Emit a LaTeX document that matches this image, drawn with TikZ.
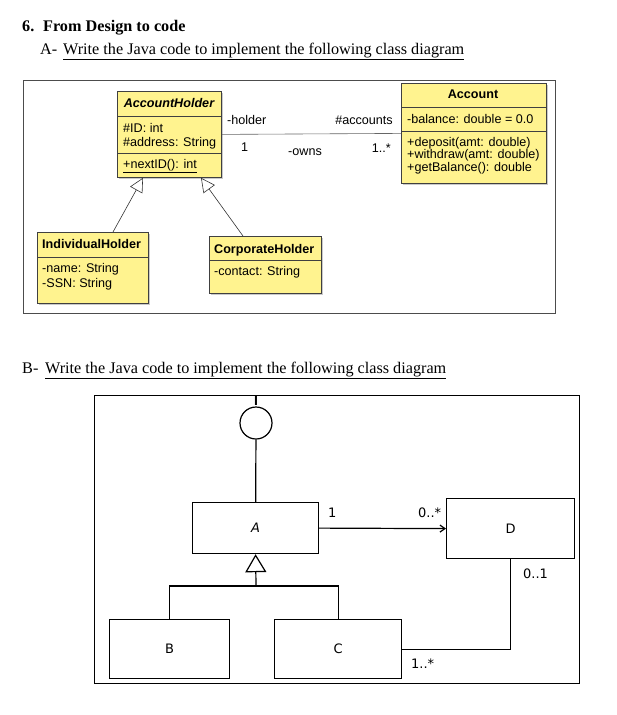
\documentclass[tikz,border=0pt]{standalone}
\usepackage{fontspec}
\setmainfont{Liberation Serif}
\newfontfamily\umlfont{Liberation Sans}
\newfontfamily\boxfont{DejaVu Sans}
\usetikzlibrary{calc,shadows,arrows.meta}
\definecolor{umlyellow}{RGB}{255,243,143}
\tikzset{
	umlbox/.style={draw=black!75,fill=umlyellow,line width=0.8pt,anchor=north west,inner sep=0pt,
			drop shadow={shadow xshift=1.5pt,shadow yshift=-1.5pt,fill=black!35,opacity=0.6}},
	umltext/.style={anchor=base west,inner sep=0pt,font=\umlfont\fontsize{12.6}{12.5}\selectfont},
	umlhead/.style={anchor=base,inner sep=0pt,font=\umlfont\bfseries\fontsize{12.6}{12.5}\selectfont},
	heading/.style={anchor=base west,inner sep=0pt,font=\fontsize{16.2}{18}\selectfont},
	plainbox/.style={draw,line width=1.2pt,anchor=north west,inner sep=0pt},
	boxtext/.style={inner sep=0pt,font=\boxfont\fontsize{13}{15}\selectfont},
	inherits/.style={-{Triangle[open,fill=white,length=14pt,width=14pt]},line width=0.6pt,black!80}
}

\begin{document}
\begin{tikzpicture}[x=1pt,y=-1pt]
		\useasboundingbox (0,0) rectangle (616,715);
		% headings
		\node [heading,font=\fontsize{16.2}{18}\selectfont\bfseries] (q6) at (22,31) {6.};
		\node [heading,font=\fontsize{16.2}{18}\selectfont\bfseries] (q6title) at (43,31) {From Design to code};
		\node [heading] (qa) at (40,54) {A-};
		\node [heading] (qatext) at (63,54) {\underline{Write the Java code to implement the following class diagram}};
		\node [heading] (qb) at (22,373) {B-};
		\node [heading] (qbtext) at (45,373) {\underline{Write the Java code to implement the following class diagram}};

		% part A
		\draw [black!70,line width=0.8pt] (23,80) rectangle (555,313);
		\node [umlbox,minimum width=104pt,minimum height=86pt] (ah) at (117,91) {};
		\draw [black!75] ($(ah.north west)+(0,25)$) -- ($(ah.north east)+(0,25)$);
		\draw [black!75] ($(ah.north west)+(0,62)$) -- ($(ah.north east)+(0,62)$);
		\node [umlhead,font=\umlfont\bfseries\itshape\fontsize{12.6}{12.5}\selectfont] (ahname) at (169,107) {AccountHolder};
		\node [umltext] (ahid) at (123,132) {\#ID: int};
		\node [umltext] (ahaddr) at (123,146) {\#address: String};
		\node [umltext] (ahnext) at (123,168) {\underline{+nextID(): int}};

		\node [umlbox,minimum width=111pt,minimum height=71pt] (ih) at (37,232) {};
		\draw [black!75] ($(ih.north west)+(0,25)$) -- ($(ih.north east)+(0,25)$);
		\node [umlhead,anchor=base west] (ihname) at (42,248) {IndividualHolder};
		\node [umltext] (ihname2) at (42,272) {-name: String};
		\node [umltext] (ihssn) at (42,287) {-SSN: String};

		\node [umlbox,minimum width=112pt,minimum height=57pt] (ch) at (209,236) {};
		\draw [black!75] ($(ch.north west)+(0,24)$) -- ($(ch.north east)+(0,24)$);
		\node [umlhead,anchor=base west] (chname) at (214,253) {CorporateHolder};
		\node [umltext] (chcontact) at (214,275) {-contact: String};

		\node [umlbox,minimum width=145pt,minimum height=100pt] (acc) at (401,83) {};
		\draw [black!75] ($(acc.north west)+(0,24)$) -- ($(acc.north east)+(0,24)$);
		\draw [black!75] ($(acc.north west)+(0,48)$) -- ($(acc.north east)+(0,48)$);
		\node [umlhead] (accname) at (473,98) {Account};
		\node [umltext] (accbal) at (407,123) {-balance: double = 0.0};
		\node [umltext] (accdep) at (407,146) {+deposit(amt: double)};
		\node [umltext] (accwd) at (407,158.5) {+withdraw(amt: double)};
		\node [umltext] (accget) at (407,171) {+getBalance(): double};

		\draw [black!60,line width=0.6pt] (ah.east) -- (acc.west);
		\node [umltext] (lholder) at (227,124) {-holder};
		\node [umltext] (lone) at (241,151) {1};
		\node [umltext] (lowns) at (288,155) {-owns};
		\node [umltext,anchor=base east] (laccounts) at (393,124) {\#accounts};
		\node [umltext,anchor=base east] (lmany) at (391,152) {1..*};

		\draw [inherits] ($(ih.north west)+(76,0)$) -- ($(ah.south west)+(26,0)$);
		\draw [inherits] ($(ch.north west)+(34,0)$) -- ($(ah.south west)+(84,0)$);

		% part B
		\draw [line width=1pt] (94,395) rectangle (579,683);
		\node [circle,draw,line width=1.2pt,minimum size=32pt,inner sep=0pt] (iface) at (256,423) {};
		\node [anchor=base,inner sep=0pt,font=\umlfont\bfseries\fontsize{14}{15}\selectfont] (iname) at (256,405.5) {I};
		\node [plainbox,minimum width=126pt,minimum height=51pt] (a) at (192,502) {};
		\node [boxtext,font=\boxfont\itshape\fontsize{13}{15}\selectfont] (aname) at (a.center) {A};
		\node [plainbox,minimum width=128pt,minimum height=60pt] (d) at (446,498) {};
		\node [boxtext] (dname) at (d.center) {D};
		\node [plainbox,minimum width=120pt,minimum height=59pt] (b) at (109,619) {};
		\node [boxtext] (bname) at (b.center) {B};
		\node [plainbox,minimum width=127pt,minimum height=59pt] (c) at (274,619) {};
		\node [boxtext] (cname) at (c.center) {C};
		\coordinate (split) at (256,586);

		\draw [line width=1.2pt] (iface) -- (a);
		\draw [line width=1.2pt,-{Straight Barb[length=5pt,width=7pt]}] (a.east) -- (d.west);
		\node [boxtext,anchor=base west] (mone) at (328,517) {1};
		\node [boxtext,anchor=base west] (mzm) at (418,517) {0..*};
		\draw [line width=1.2pt,-{Triangle[open,fill=white,length=18pt,width=21pt]}] (split) -- (a.south);
		\draw [line width=1.2pt] (b.north) |- (split) -| (c.north);
		\draw [line width=1.2pt] (c.east) -| (d.south);
		\node [boxtext,anchor=base west] (mzo) at (523,578) {0..1};
		\node [boxtext,anchor=base west] (mom) at (411,668) {1..*};
	\end{tikzpicture}
\end{document}
